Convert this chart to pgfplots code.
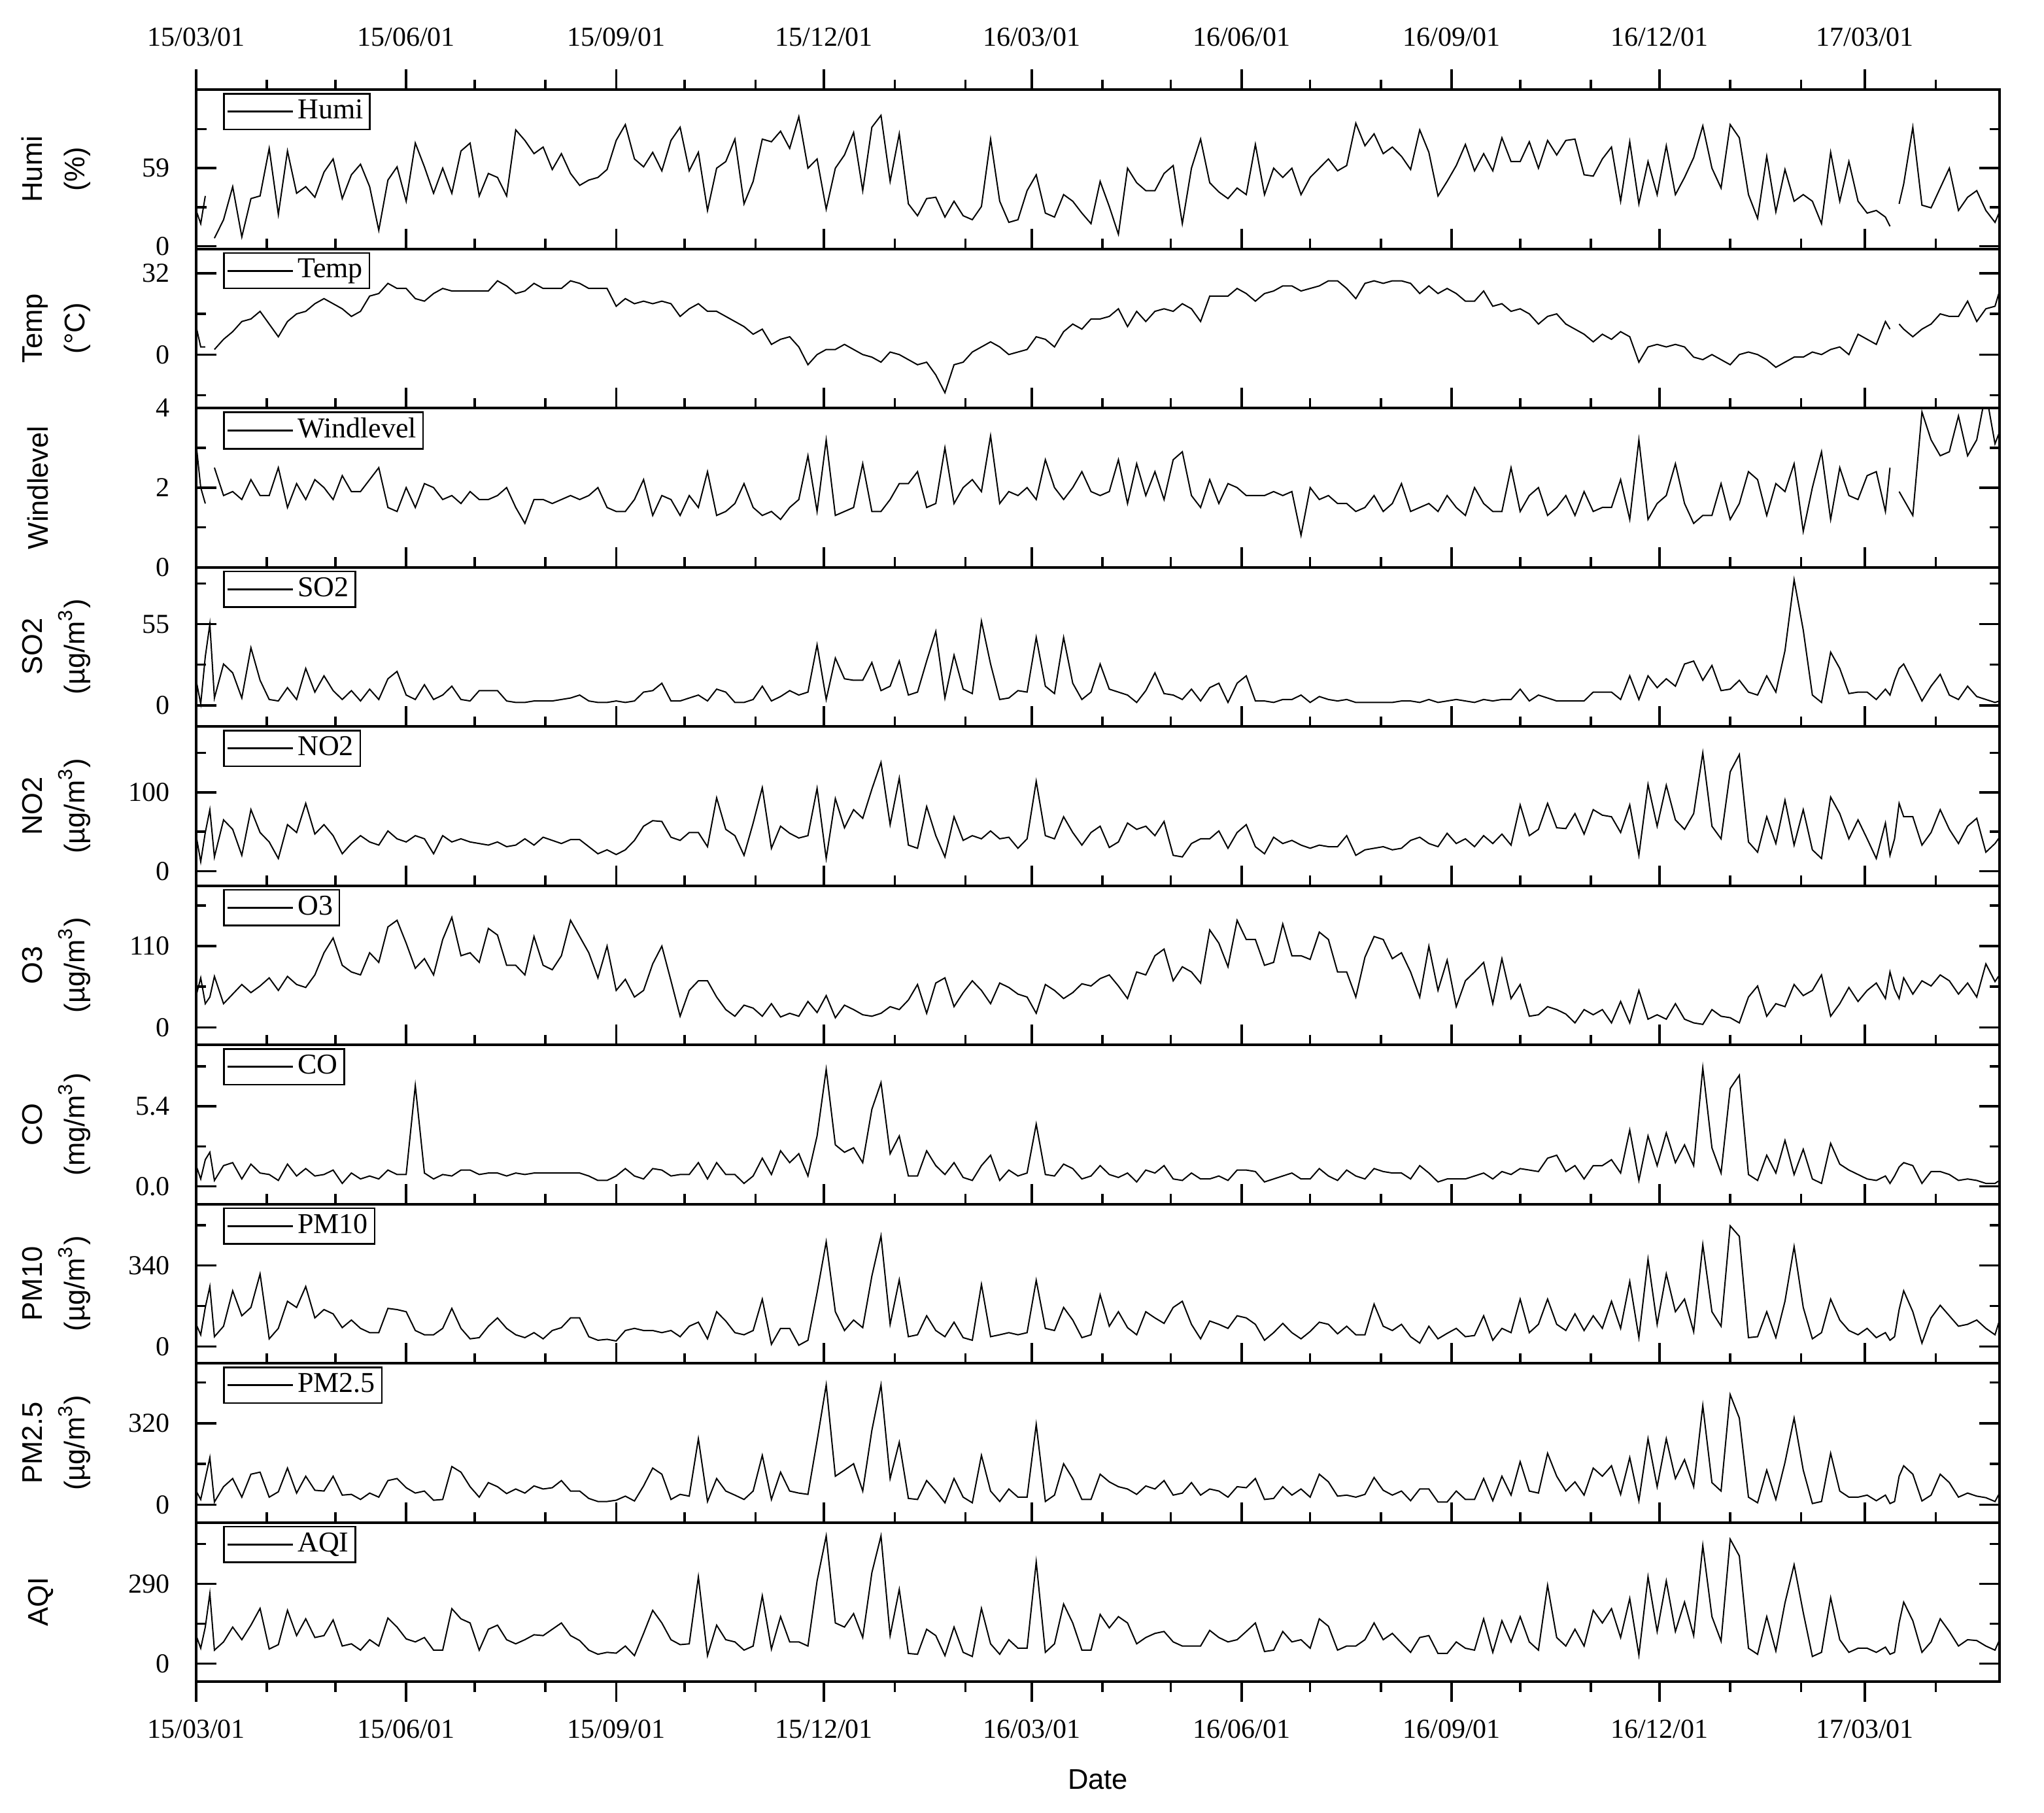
\documentclass[border=0pt]{standalone}
\usepackage{fontspec}
\setmainfont{Liberation Serif}
\setsansfont{Liberation Sans}
\usepackage{pgfplots}
\usepackage{pgfplotstable}
\pgfplotsset{compat=1.18}

\newcommand\tfont{\fontsize{8.4}{10}\selectfont}
\newcommand\lfont{\fontsize{8.8}{10}\selectfont}
\newcommand\yfont{\fontsize{8.7}{13}\selectfont\sffamily}

% day index from 2015-03-01
\pgfplotstableread{
x humi temp wind so2 no2 o3 co pm10 pm25 aqi
0 27 11 3.1 17 45 43 1.4 93 54 102
2 17 3 2.0 1 12 67 0.5 49 21 56
4 38 3 1.6 33 49 32 1.8 164 103 133
6 nan nan nan 55 78 41 2.3 252 185 255
8 6 2 2.5 5 18 69 0.4 41 11 49
12 20 6 1.8 28 65 32 1.4 85 71 79
16 45 9 1.9 22 53 45 1.6 234 103 133
20 7 13 1.7 5 20 58 0.5 129 30 87
24 36 14 2.2 39 78 47 1.5 164 120 140
28 38 17 1.8 17 49 56 0.9 305 128 201
32 74 12 1.8 4 37 67 0.8 32 30 53
36 24 7 2.5 3 16 50 0.4 76 51 69
40 72 13 1.5 12 59 69 1.5 190 144 194
44 40 16 2.1 4 49 58 0.7 164 46 102
48 45 17 1.7 25 86 54 1.2 252 112 163
52 37 20 2.2 9 47 71 0.7 120 57 95
56 56 22 2.0 20 59 101 0.8 155 54 102
60 66 20 1.7 10 45 121 1.1 137 112 159
64 36 18 2.3 4 22 84 0.2 79 38 64
68 54 15 1.9 10 35 75 0.9 111 41 72
72 62 17 1.9 3 45 71 0.5 76 21 49
76 45 23 2.2 11 37 101 0.7 58 46 87
80 12 24 2.5 4 33 88 0.5 58 30 64
84 50 28 1.5 18 51 136 1.1 160 95 166
88 60 26 1.4 23 41 145 0.8 155 103 133
92 34 26 2.0 7 37 114 0.8 146 67 90
96 78 22 1.5 4 45 80 6.8 67 46 79
100 60 21 2.1 14 41 93 0.9 49 54 95
104 40 24 2.0 4 22 71 0.5 49 18 49
108 59 26 1.7 7 45 119 0.8 76 21 49
112 40 25 1.8 13 37 149 0.7 160 150 200
116 72 25 1.6 4 41 97 1.1 76 128 163
120 78 25 1.9 3 37 101 1.1 32 71 148
124 38 25 1.7 10 35 88 0.8 37 30 49
128 55 25 1.7 10 33 134 0.9 85 87 125
132 52 29 1.8 10 37 125 0.9 120 71 140
136 38 27 2.0 3 31 84 0.7 76 44 87
140 88 24 1.5 2 33 84 0.9 49 62 72
144 80 25 1.1 2 41 71 0.8 37 46 87
148 70 28 1.7 3 33 123 0.9 58 74 105
152 75 26 1.7 3 43 84 0.9 32 62 102
156 58 26 1.6 3 39 78 0.9 67 67 125
160 70 26 1.7 4 35 97 0.9 79 95 148
164 55 29 1.8 5 40 145 0.9 120 54 102
168 46 28 1.7 7 40 123 0.9 120 54 84
172 50 26 1.8 3 31 101 0.7 41 25 49
176 52 26 2.0 2 22 67 0.4 26 13 34
180 58 26 1.5 2 27 110 0.4 30 13 41
184 80 19 1.4 3 21 50 0.7 23 18 38
188 92 22 1.4 2 27 65 1.2 67 34 64
192 66 20 1.7 3 39 41 0.7 76 15 29
196 60 21 2.2 9 57 50 0.5 67 74 110
200 71 20 1.3 10 64 86 1.2 67 144 194
204 57 21 1.8 15 63 110 1.1 58 120 148
208 80 20 1.7 3 43 63 0.7 67 21 87
212 90 15 1.3 3 39 15 0.8 41 41 69
216 57 18 1.8 5 49 50 0.8 85 34 72
220 71 20 1.5 7 49 63 1.6 102 259 316
224 27 17 2.4 3 31 63 0.5 32 13 29
228 59 17 1.3 11 93 41 1.6 146 103 140
232 64 15 1.4 9 53 24 0.8 107 54 87
236 81 13 1.6 2 45 15 0.8 58 38 79
240 32 11 2.1 2 20 30 0.2 49 21 49
244 49 8 1.5 4 61 26 0.7 67 54 64
248 81 10 1.3 13 106 15 1.9 199 194 247
252 79 4 1.4 3 29 32 0.8 9 21 53
256 87 6 1.2 6 57 14 2.4 76 128 171
260 74 7 1.5 10 48 19 1.6 76 54 79
264 98 3 1.7 7 42 15 2.2 5 46 79
268 59 -4 2.8 9 45 35 0.7 26 41 64
272 66 0 1.4 41 105 20 3.4 226 251 301
276 28 2 3.2 4 16 43 7.9 440 470 465
280 59 2 1.3 32 92 13 2.8 146 112 148
284 69 4 1.4 18 55 30 2.3 67 136 133
288 86 2 1.5 17 78 24 2.6 111 161 182
292 42 0 2.6 17 67 17 1.6 79 54 95
296 90 -1 1.4 29 104 15 5.2 296 292 331
300 99 -3 1.4 10 138 19 7.0 465 470 465
304 49 1 1.7 13 59 28 2.2 93 103 102
308 85 0 2.1 30 118 24 3.4 280 245 270
312 32 -2 2.1 7 33 37 0.7 41 25 37
316 23 -4 2.4 9 29 58 0.7 49 21 34
320 36 -3 1.5 30 82 19 2.4 129 95 125
324 37 -8 1.6 50 45 60 1.4 67 54 102
328 22 -15 3.0 5 18 67 0.8 41 8 29
332 34 -4 1.6 34 69 28 1.6 102 103 133
336 23 -3 2.0 11 39 47 0.6 37 30 41
340 20 1 2.2 8 45 63 0.4 26 8 26
344 30 3 1.9 57 41 50 1.4 261 194 201
348 81 5 3.3 28 51 32 2.1 41 54 72
352 34 3 1.6 4 41 60 0.4 49 13 34
356 18 0 1.9 5 43 54 1.1 58 62 87
360 20 1 1.8 10 29 45 0.7 49 30 56
364 42 2 2.0 9 41 41 0.9 58 30 56
368 54 7 1.7 46 114 19 4.2 278 315 370
372 25 6 2.7 13 45 58 0.8 76 13 41
376 22 3 2.0 8 41 50 0.7 67 38 72
380 39 9 1.7 46 69 39 1.5 164 161 217
384 34 12 2.0 15 49 47 1.2 111 103 148
388 25 10 2.4 4 33 59 0.5 37 21 49
392 17 14 1.9 9 49 56 0.7 49 21 49
396 49 14 1.8 28 57 66 1.4 217 120 179
400 30 15 1.9 11 30 71 0.8 85 90 130
404 9 18 2.7 9 37 56 0.6 146 71 171
408 59 11 1.6 7 61 39 0.9 79 62 148
412 48 17 2.6 2 53 75 0.3 49 41 72
416 42 13 1.8 10 57 71 1.1 146 74 95
420 42 17 2.4 22 45 97 0.9 120 62 110
424 55 18 1.7 8 63 106 1.4 97 95 117
428 61 17 2.7 7 20 63 0.5 164 38 79
432 17 20 2.9 4 18 82 0.4 190 46 64
436 59 18 1.8 11 35 75 0.9 93 87 64
440 81 13 1.5 3 41 60 0.5 32 38 64
444 48 23 2.2 12 41 132 0.5 107 62 121
448 41 23 1.6 15 51 114 0.7 93 54 95
452 36 23 2.1 2 29 82 0.4 76 30 79
456 44 26 2.0 15 49 145 1.1 129 71 87
460 39 24 1.8 20 59 119 1.1 120 67 117
464 77 21 1.8 3 31 119 1.0 93 103 148
468 39 24 1.8 3 22 84 0.3 26 21 44
472 59 25 1.9 2 43 88 0.5 58 25 49
476 52 27 1.8 4 35 140 0.7 97 71 117
480 59 27 1.9 4 39 97 0.9 58 38 79
484 39 25 0.8 7 33 97 0.5 32 62 87
488 52 26 2.0 2 29 92 0.5 63 30 56
492 59 27 1.7 6 33 129 1.2 102 120 163
496 66 29 1.8 4 31 119 0.7 93 90 136
500 57 29 1.6 3 31 75 0.4 53 34 49
504 61 26 1.6 4 45 75 1.1 85 38 64
508 93 22 1.4 2 20 41 0.7 49 30 64
512 76 28 1.5 2 27 95 0.5 49 41 87
516 85 29 1.8 2 29 123 1.2 178 107 148
520 70 28 1.4 2 31 119 1.0 85 57 87
524 75 29 1.6 2 27 93 0.9 67 38 110
528 68 29 2.1 3 29 101 0.9 93 54 75
532 58 28 1.4 3 39 75 0.5 41 16 41
536 88 24 1.5 2 43 41 1.4 14 62 95
540 71 27 1.6 4 35 110 0.9 85 62 102
544 38 24 1.4 2 31 50 0.3 32 11 37
548 49 26 1.8 3 48 91 0.5 55 11 37
552 61 24 1.5 4 35 28 0.5 76 54 79
556 77 21 1.3 3 41 63 0.5 41 21 56
560 57 21 2.0 2 31 75 0.7 46 21 49
564 70 25 1.6 4 45 88 0.9 129 103 163
568 57 19 1.4 3 35 32 0.5 26 16 41
572 82 20 1.4 4 47 93 1.0 76 112 156
576 64 17 2.5 4 33 39 0.8 58 38 79
580 64 18 1.4 11 84 58 1.2 199 169 171
584 79 16 1.8 3 45 15 1.1 58 54 79
588 59 12 2.0 7 53 17 1.0 93 46 49
592 80 15 1.3 5 86 28 1.9 199 202 285
596 69 16 1.5 3 55 24 2.1 93 112 95
600 80 12 1.8 3 54 18 1.0 67 54 64
604 81 10 1.3 3 73 6 1.4 137 90 125
608 54 8 1.9 3 47 24 0.5 67 38 64
612 53 5 1.4 9 78 17 1.4 129 144 194
616 66 8 1.5 9 71 24 1.4 76 112 148
620 75 6 1.5 9 69 6 1.8 190 153 200
624 34 9 2.2 4 49 35 0.9 76 41 95
628 79 7 1.2 20 84 6 3.8 273 185 237
632 32 -3 3.2 4 20 50 0.4 37 16 31
636 64 3 1.2 20 110 11 3.4 367 259 316
640 39 4 1.6 12 57 17 1.4 93 71 117
644 76 3 1.8 18 109 11 3.6 305 259 301
648 39 4 2.6 13 65 32 1.6 146 103 117
652 52 3 1.6 28 53 11 2.8 199 177 224
656 67 -1 1.1 30 73 6 1.4 62 71 102
660 91 -2 1.3 17 150 4 8.0 428 389 430
664 59 0 1.3 27 57 24 2.6 146 87 171
668 44 -2 2.1 10 41 15 0.9 85 54 82
672 92 -4 1.2 11 126 13 6.6 507 432 453
676 82 0 1.6 17 148 6 7.5 463 340 392
680 39 1 2.4 9 37 41 0.8 37 30 56
684 21 0 2.2 7 24 56 0.4 41 8 34
688 68 -2 1.3 20 69 15 2.1 146 136 171
692 26 -5 2.1 9 35 32 0.9 37 21 46
696 58 -3 1.9 37 90 28 3.1 190 166 221
700 34 -1 2.6 85 33 58 0.8 420 340 360
704 39 -1 0.9 51 78 43 2.5 164 136 186
708 34 1 2.0 7 27 50 0.5 32 5 26
712 17 0 2.9 2 16 71 0.2 58 13 41
716 71 2 1.2 36 94 15 2.9 199 202 240
720 34 3 2.5 25 73 32 1.5 111 54 87
724 64 0 1.8 8 41 54 1.1 67 30 41
728 34 8 1.7 9 65 35 0.8 49 30 56
732 25 6 2.3 9 41 50 0.5 76 38 56
736 27 4 2.4 4 16 60 0.4 37 16 41
740 22 13 1.4 11 61 39 0.7 58 38 60
742 15 10 2.5 7 20 75 0.2 26 5 34
744 nan nan nan 17 41 52 0.7 41 13 41
746 32 12 1.9 25 86 39 1.3 155 112 148
748 47 10 1.7 28 69 67 1.6 234 153 224
752 90 7 1.3 16 69 45 1.4 146 120 156
756 31 10 3.9 3 33 63 0.2 14 15 41
760 29 12 3.2 13 49 56 1.0 120 38 79
764 44 16 2.8 21 78 71 1.0 173 120 163
768 59 15 2.9 7 53 63 0.8 129 87 117
772 27 15 3.8 4 35 45 0.4 85 30 64
776 37 21 2.8 13 57 60 0.5 93 46 87
780 42 13 3.2 6 67 41 0.4 111 34 84
784 27 18 4.4 4 24 86 0.2 76 28 64
788 18 19 3.1 2 35 62 0.2 49 13 49
790 26 25 3.4 3 43 71 0.4 111 46 87
}\data

\pgfplotsset{
  panel/.style={
    scale only axis, width=551.6pt, height=48.7pt,
    anchor=north west,
    xmin=0, xmax=790,
    xtick={0,92,184,275,366,458,550,641,731},
    minor xtick={31,61,122,153,214,245,306,337,397,427,488,519,580,611,672,703,762},
    xticklabels={},
    xtick pos=right, xtick align=outside,
    ytick pos=both, ytick align=inside,
    major tick length=6.2pt, minor tick length=3.1pt,
    tick style={black, line width=0.7pt},
    axis line style={line width=0.8pt},
    tick label style={font=\tfont},
    yticklabel style={xshift=-4.5pt},
    ylabel style={font=\yfont, align=center,
      at={(axis description cs:-0.052,0.5)}, anchor=south},
    unbounded coords=jump,
    cycle list={{black, line width=0.7pt, mark=none, line join=round}},
    legend style={at={(axis description cs:0.0149,0.979)}, anchor=north west,
      draw=black, line width=0.5pt, inner xsep=0.8pt, inner ysep=0pt,
      font=\lfont, nodes={inner xsep=1.2pt, inner ysep=1.8pt}},
    legend image code/.code={\draw[#1, line width=0.6pt] (0pt,0pt) -- (20pt,0pt);},
  },
}

\begin{document}
\begin{tikzpicture}
\begin{axis}[panel, name=p1, at={(0,0)},
  ymin=-2, ymax=118.5, ytick={0,59}, yticklabels={0,59}, minor ytick={29.5,88.5},
  ylabel={Humi\\(\%)},
  xticklabel pos=right, xtick pos=right,
  xticklabels={15/03/01,15/06/01,15/09/01,15/12/01,16/03/01,16/06/01,16/09/01,16/12/01,17/03/01},
  xticklabel style={yshift=3.5pt}]
\addplot table[x=x,y=humi]{\data};
\addlegendentry{Humi}
\end{axis}

\begin{axis}[panel, name=p2, at={(0,-48.7pt)},
  ymin=-21, ymax=41.6, ytick={0,32}, yticklabels={0,32}, minor ytick={-16,16},
  ylabel={Temp\\(°C)}]
\addplot table[x=x,y=temp]{\data};
\addlegendentry{Temp}
\end{axis}

\begin{axis}[panel, name=p3, at={(0,-97.4pt)},
  ymin=0, ymax=4, ytick={0,2,4}, yticklabels={0,2,4}, minor ytick={1,3},
  ylabel={Windlevel\\\mbox{}}]
\addplot table[x=x,y=wind]{\data};
\addlegendentry{Windlevel}
\end{axis}

\begin{axis}[panel, name=p4, at={(0,-146.1pt)},
  ymin=-14.2, ymax=93.5, ytick={0,55}, yticklabels={0,55}, minor ytick={27.5,82.5},
  ylabel={SO2\\(µg/m\textsuperscript{3})}]
\addplot table[x=x,y=so2]{\data};
\addlegendentry{SO2}
\end{axis}

\begin{axis}[panel, name=p5, at={(0,-194.8pt)},
  ymin=-18.4, ymax=183.7, ytick={0,100}, yticklabels={0,100}, minor ytick={50,150},
  ylabel={NO2\\(µg/m\textsuperscript{3})}]
\addplot table[x=x,y=no2]{\data};
\addlegendentry{NO2}
\end{axis}

\begin{axis}[panel, name=p6, at={(0,-243.5pt)},
  ymin=-23.7, ymax=192, ytick={0,110}, yticklabels={0,110}, minor ytick={55,165},
  ylabel={O3\\(µg/m\textsuperscript{3})}]
\addplot table[x=x,y=o3]{\data};
\addlegendentry{O3}
\end{axis}

\begin{axis}[panel, name=p7, at={(0,-292.2pt)},
  ymin=-1.19, ymax=9.55, ytick={0,5.4}, yticklabels={0.0,5.4}, minor ytick={2.7,8.1},
  ylabel={CO\\(mg/m\textsuperscript{3})}]
\addplot table[x=x,y=co]{\data};
\addlegendentry{CO}
\end{axis}

\begin{axis}[panel, name=p8, at={(0,-340.9pt)},
  ymin=-70.5, ymax=599, ytick={0,340}, yticklabels={0,340}, minor ytick={170,510},
  ylabel={PM10\\(µg/m\textsuperscript{3})}]
\addplot table[x=x,y=pm10]{\data};
\addlegendentry{PM10}
\end{axis}

\begin{axis}[panel, name=p9, at={(0,-389.6pt)},
  ymin=-69, ymax=555, ytick={0,320}, yticklabels={0,320}, minor ytick={160,480},
  ylabel={PM2.5\\(µg/m\textsuperscript{3})}]
\addplot table[x=x,y=pm25]{\data};
\addlegendentry{PM2.5}
\end{axis}

\begin{axis}[panel, name=p10, at={(0,-438.3pt)},
  ymin=-65.6, ymax=514, ytick={0,290}, yticklabels={0,290}, minor ytick={145,435},
  ylabel={AQI\\\mbox{}},
  xticklabel pos=left, xtick pos=both,
  xticklabels={15/03/01,15/06/01,15/09/01,15/12/01,16/03/01,16/06/01,16/09/01,16/12/01,17/03/01},
  xticklabel style={yshift=-2pt},
  xlabel={Date},
  xlabel style={font=\yfont, at={(axis description cs:0.5,0)}, anchor=center, yshift=-30pt}]
\addplot table[x=x,y=aqi]{\data};
\addlegendentry{AQI}
\end{axis}

\pgfresetboundingbox
\path[use as bounding box] (-60pt,27.4pt) rectangle (565.2pt,-527pt);
\end{tikzpicture}
\end{document}
